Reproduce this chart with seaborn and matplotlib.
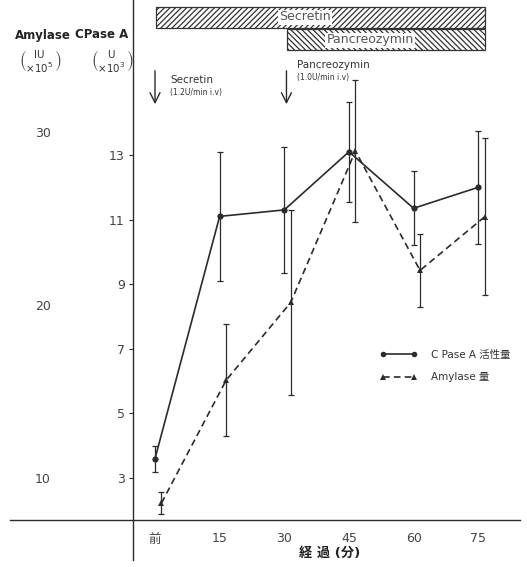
import numpy as np
import pandas as pd
import matplotlib
matplotlib.use('Agg')
import matplotlib.pyplot as plt
import matplotlib.transforms as mtransforms
from matplotlib.patches import Rectangle
from matplotlib.lines import Line2D
import seaborn as sns

# ---------------- data ----------------
time_min = [0, 15, 30, 45, 60, 75]
time_labels = ['前', '15', '30', '45', '60', '75']
cpase_mean = [3.6, 11.1, 11.3, 13.1, 11.35, 12.0]
cpase_sd = [0.4, 2.0, 1.95, 1.55, 1.15, 1.75]
amylase_mean = [8.55, 15.65, 20.15, 28.9, 22.0, 25.1]
amylase_sd = [0.65, 3.25, 5.35, 4.1, 2.1, 4.55]
cpase_ticks = [3, 5, 7, 9, 11, 13]
amylase_ticks = [10, 20, 30]
legend_labels = ['C Pase A 活性量', 'Amylase 量']

sns.set_theme(style='white')
plt.rcParams['font.family'] = ['DejaVu Sans', 'Noto Sans CJK JP']
plt.rcParams['hatch.linewidth'] = 0.9

INK = '#2b2b2b'
W, H = 527, 567
fig = plt.figure(figsize=(W / 100, H / 100), dpi=100)
L, R, T, B = 10, 520, 0, 560
ax = fig.add_axes([L / W, 1 - B / H, (R - L) / W, (B - T) / H])

# pixel scale helpers (layout only)
x0px, pxmin = 155, 4.31
c_ref_px, c_pxu = 478, 32.3
a_ref_px, a_pxu = 478, 17.3
ax.set_xlim((L - x0px) / pxmin, (R - x0px) / pxmin)
ax.set_ylim(3 + (c_ref_px - B) / c_pxu, 3 + (c_ref_px - T) / c_pxu)

ax2 = ax.twinx()
ax2.set_ylim(10 + (a_ref_px - B) / a_pxu, 10 + (a_ref_px - T) / a_pxu)

amy_shift = 1.5
amy_x = [t + amy_shift for t in time_min]

df_c = pd.DataFrame({'t': time_min, 'v': cpase_mean})
df_a = pd.DataFrame({'t': amy_x, 'v': amylase_mean})

# CPase A (solid, circles)
ax.errorbar(time_min, cpase_mean, yerr=cpase_sd, fmt='none', ecolor=INK,
            elinewidth=0.9, capsize=2.5, capthick=0.9, zorder=2)
sns.lineplot(data=df_c, x='t', y='v', ax=ax, color=INK, linewidth=1.2,
             marker='o', markersize=4.5, markeredgewidth=0, zorder=3)

# Amylase (dashed, triangles)
ax2.errorbar(amy_x, amylase_mean, yerr=amylase_sd, fmt='none', ecolor=INK,
             elinewidth=0.9, capsize=2.5, capthick=0.9, zorder=2)
sns.lineplot(data=df_a, x='t', y='v', ax=ax2, color=INK, linewidth=1.2,
             linestyle=(0, (4, 2.5)), marker='^', markersize=5,
             markeredgewidth=0, zorder=3)

# axes lines (crossing style)
for s in ['top', 'right']:
    ax.spines[s].set_visible(False)
ax.spines['left'].set_position(('data', (133 - x0px) / pxmin))
ax.spines['bottom'].set_position(('data', 3 + (c_ref_px - 520) / c_pxu))
for s in ['left', 'bottom']:
    ax.spines[s].set_color(INK)
    ax.spines[s].set_linewidth(1.0)
for s in ax2.spines.values():
    s.set_visible(False)

ax.set_yticks(cpase_ticks)
ax.set_yticklabels([str(v) for v in cpase_ticks])
ax.tick_params(axis='y', left=True, direction='out', length=3, width=0.8,
               pad=3, labelsize=9, colors=INK, labelcolor='#444')
ax.set_xticks(time_min)
ax.set_xticklabels(time_labels)
ax.tick_params(axis='x', which='major', bottom=True, length=0, pad=9,
               labelsize=9, labelcolor='#444')
ax.set_xticks([15, 30, 45, 60], minor=True)
ax.tick_params(axis='x', which='minor', bottom=True, direction='in',
               length=3, width=0.8, color=INK)
ax.set_xlabel('')
ax.set_ylabel('')

ax2.yaxis.tick_left()
ax2.spines['left'].set_position(('data', (51 - x0px) / pxmin))
ax2.set_yticks(amylase_ticks)
ax2.set_yticklabels([str(v) for v in amylase_ticks])
ax2.tick_params(axis='y', left=True, right=False, labelleft=True,
                labelright=False, length=0, pad=0, labelsize=9,
                labelcolor='#444')
ax2.set_ylabel('')

# top treatment bars
trans = mtransforms.blended_transform_factory(ax.transData, ax.transAxes)
ax.add_patch(Rectangle((0.2, 1 - 28 / 560), 76.4, 21 / 560, transform=trans,
                       fill=False, hatch='//////', edgecolor='#333', lw=0.9,
                       clip_on=False))
ax.add_patch(Rectangle((30.6, 1 - 50 / 560), 46.0, 21 / 560, transform=trans,
                       fill=False, hatch='\\\\\\\\\\\\', edgecolor='#333', lw=0.9,
                       clip_on=False))
ax.text(34.8, 1 - 17 / 560, 'Secretin', transform=trans, ha='center',
        va='center', fontsize=9, color='#555',
        bbox=dict(boxstyle='square,pad=0.08', fc='white', ec='none'))
ax.text(49.9, 1 - 40 / 560, 'Pancreozymin', transform=trans, ha='center',
        va='center', fontsize=9, color='#555',
        bbox=dict(boxstyle='square,pad=0.08', fc='white', ec='none'))

# injection arrows
for xa in [0, 30.5]:
    ax.annotate('', xy=(xa, 1 - 107 / 560), xytext=(xa, 1 - 68 / 560),
                xycoords=trans, textcoords=trans,
                arrowprops=dict(arrowstyle='->,head_length=0.6,head_width=0.3',
                                lw=1.0, color=INK))
ax.text(3.5, 1 - 80 / 560, 'Secretin', transform=trans, ha='left',
        va='center', fontsize=7.5, color='#333')
ax.text(3.5, 1 - 93 / 560, '(1.2U/min i.v)', transform=trans, ha='left',
        va='center', fontsize=5.5, color='#333')
ax.text(32.9, 1 - 65 / 560, 'Pancreozymin', transform=trans, ha='left',
        va='center', fontsize=7.5, color='#333')
ax.text(32.9, 1 - 78 / 560, '(1.0U/min i.v)', transform=trans, ha='left',
        va='center', fontsize=5.5, color='#333')

# axis headers
fig.text(15 / W, 1 - 35 / H, 'Amylase', ha='left', va='center',
         fontsize=8.5, fontweight='bold', color='#222')
fig.text(75 / W, 1 - 35 / H, 'CPase A', ha='left', va='center',
         fontsize=8.5, fontweight='bold', color='#222')
fig.text(40 / W, 1 - 62 / H, r'$\binom{\mathrm{IU}}{\times 10^5}$',
         ha='center', va='center', fontsize=10.5, color='#333')
fig.text(112 / W, 1 - 62 / H, r'$\binom{\mathrm{U}}{\times 10^3}$',
         ha='center', va='center', fontsize=10.5, color='#333')

# x label
fig.text(330 / W, 1 - 553 / H, '経 過 (分)', ha='center', va='center',
         fontsize=9.5, fontweight='bold', color='#222')

# legend
handles = [Line2D([0], [0], color=INK, lw=1.2, marker='o', ms=4,
                  markeredgewidth=0),
           Line2D([0], [0], color=INK, lw=1.2, linestyle=(0, (4, 2.5)),
                  marker='^', ms=4.5, markeredgewidth=0)]
ax2.legend(handles, legend_labels, loc='center left',
           bbox_to_anchor=(380 / W, 1 - 366 / H), bbox_transform=fig.transFigure,
           frameon=False, fontsize=7.5, handlelength=3.6, handletextpad=1.3,
           numpoints=2, borderpad=0, borderaxespad=0, labelspacing=1.2,
           labelcolor='#333')

fig.savefig('out.png', dpi=100)
